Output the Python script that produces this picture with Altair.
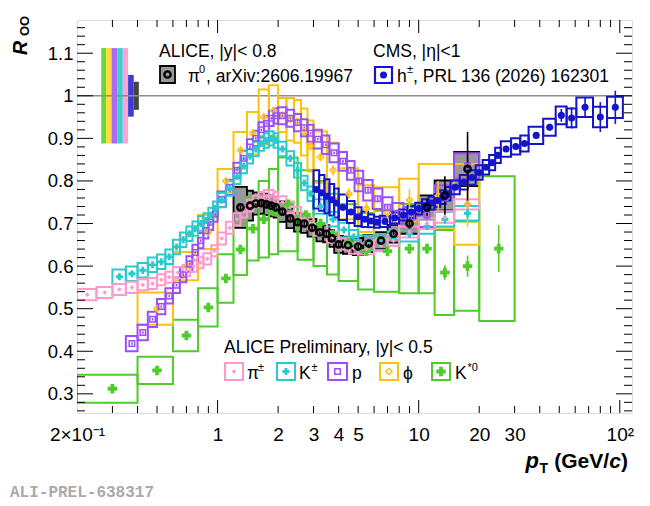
import altair as alt
import pandas as pd
import numpy as np

# ---------------- data ----------------
# pi+- (ALICE preliminary)
pi_edges = [0.2, 0.25, 0.3, 0.35, 0.4, 0.45, 0.5, 0.55, 0.6, 0.67, 0.73, 0.79, 0.85, 0.93, 1.0,
            1.1, 1.2, 1.3, 1.4, 1.5, 1.6, 1.7, 1.8, 1.9, 2.0, 2.2, 2.4, 2.6, 2.8, 3.0, 3.5, 4.0,
            4.5, 5.0, 6.0, 7.0, 8.0, 10, 12, 15, 20]
pi_y = [0.533, 0.538, 0.545, 0.550, 0.556, 0.559, 0.568, 0.574, 0.585, 0.590, 0.600, 0.608,
        0.617, 0.636, 0.665, 0.690, 0.710, 0.728, 0.742, 0.752, 0.760, 0.765, 0.765, 0.760,
        0.750, 0.738, 0.725, 0.712, 0.700, 0.685, 0.668, 0.652, 0.642, 0.640, 0.648, 0.660,
        0.680, 0.700, 0.715, 0.745]
pi_sys = [0.013] * 14 + [0.014] * 16 + [0.013] * 6 + [0.013, 0.013, 0.013, 0.012]
pi_stat = [0.002] * 30 + [0.003, 0.003, 0.003, 0.004, 0.004, 0.005, 0.006, 0.008, 0.010, 0.012]

# K+-
k_edges = [0.3, 0.35, 0.4, 0.45, 0.5, 0.55, 0.6, 0.65, 0.7, 0.75, 0.8, 0.85, 0.9, 0.95, 1.0,
           1.1, 1.2, 1.3, 1.4, 1.5, 1.6, 1.7, 1.8, 1.9, 2.0, 2.2, 2.4, 2.6, 2.8, 3.0, 3.5, 4.0,
           4.5, 5.0, 6.0, 7.0, 8.0, 10, 12, 15, 20]
k_y = [0.575, 0.582, 0.590, 0.603, 0.610, 0.622, 0.645, 0.662, 0.676, 0.688, 0.700, 0.707,
       0.720, 0.735, 0.755, 0.782, 0.810, 0.835, 0.858, 0.875, 0.888, 0.895, 0.900, 0.895,
       0.875, 0.853, 0.825, 0.795, 0.770, 0.740, 0.710, 0.685, 0.668, 0.655, 0.655, 0.665,
       0.675, 0.693, 0.710, 0.724]
k_sys = [0.017] * 40
k_stat = [0.003] * 30 + [0.003, 0.003, 0.004, 0.004, 0.005, 0.006, 0.007, 0.009, 0.011, 0.014]

# protons
p_edges = [0.35, 0.4, 0.45, 0.5, 0.55, 0.6, 0.65, 0.7, 0.75, 0.8, 0.85, 0.9, 0.95, 1.0,
           1.1, 1.2, 1.3, 1.4, 1.5, 1.6, 1.7, 1.8, 1.9, 2.0, 2.2, 2.4, 2.6, 2.8, 3.0, 3.3,
           3.6, 4.0, 4.4, 4.8, 5.3, 5.9, 6.6, 7.4, 8.4, 10, 12, 15, 20]
p_y = [0.418, 0.444, 0.475, 0.505, 0.530, 0.555, 0.580, 0.605, 0.632, 0.660, 0.683, 0.703,
       0.722, 0.757, 0.785, 0.825, 0.853, 0.880, 0.900, 0.920, 0.935, 0.947, 0.953, 0.953,
       0.947, 0.937, 0.925, 0.912, 0.898, 0.885, 0.866, 0.846, 0.825, 0.800, 0.778, 0.758,
       0.738, 0.724, 0.715, 0.720, 0.760, 0.835]
p_sys = [0.018] * 23 + [0.020] * 5 + [0.022] * 5 + [0.024] * 6 + [0.028, 0.030, 0.030]
p_stat = [0.003] * 30 + [0.003, 0.004, 0.004, 0.005, 0.005, 0.006, 0.007, 0.008, 0.010, 0.012, 0.015, 0.020]

# phi
phi_edges = [0.4, 0.6, 0.8, 1.0, 1.2, 1.4, 1.6, 1.8, 2.0, 2.2, 2.4, 2.6, 2.8, 3.0, 3.5, 4.0,
             5.0, 6.0, 8.0, 10, 15, 20]
phi_y = [0.500, 0.600, 0.680, 0.800, 0.872, 0.912, 0.950, 0.965, 0.955, 0.945, 0.940, 0.915,
         0.882, 0.856, 0.825, 0.770, 0.735, 0.725, 0.755, 0.765, 0.745]
phi_sys = [0.038, 0.033, 0.040, 0.028, 0.043, 0.050, 0.065, 0.060, 0.040, 0.050, 0.050, 0.055,
           0.060, 0.060, 0.065, 0.060, 0.055, 0.060, 0.050, 0.075, 0.095]
phi_stat = [0.004, 0.004, 0.004, 0.004, 0.005, 0.005, 0.006, 0.006, 0.007, 0.008, 0.008, 0.009,
            0.010, 0.010, 0.012, 0.012, 0.015, 0.018, 0.026, 0.035, 0.053]

# K*0
ks_edges = [0.2, 0.4, 0.6, 0.8, 1.0, 1.2, 1.4, 1.6, 1.8, 2.0, 2.5, 3.0, 3.5, 4.0, 5.0, 6.0,
            8.0, 10, 12, 15, 20, 30]
ks_y = [0.312, 0.355, 0.437, 0.503, 0.571, 0.639, 0.688, 0.710, 0.728, 0.745, 0.720, 0.700,
        0.675, 0.655, 0.635, 0.635, 0.641, 0.641, 0.585, 0.600, 0.641]
ks_sys = [0.033, 0.032, 0.037, 0.045, 0.057, 0.060, 0.075, 0.090, 0.100, 0.110, 0.105, 0.100,
          0.095, 0.090, 0.090, 0.095, 0.105, 0.105, 0.100, 0.105, 0.170]
ks_stat = [0.004, 0.004, 0.004, 0.004, 0.005, 0.005, 0.006, 0.006, 0.007, 0.007, 0.008, 0.008,
           0.009, 0.010, 0.010, 0.012, 0.012, 0.012, 0.017, 0.025, 0.055]

# pi0 (ALICE, arXiv:2606.19967)
pi0_edges = [1.2, 1.4, 1.5, 1.6, 1.7, 1.8, 1.9, 2.0, 2.2, 2.4, 2.6, 2.8, 3.1, 3.35, 3.6, 3.8,
             4.2, 4.7, 5.3, 6.0, 7.0, 8.0, 10, 12, 15, 20]
pi0_y = [0.738, 0.742, 0.747, 0.748, 0.745, 0.742, 0.738, 0.728, 0.712, 0.703, 0.700, 0.690,
         0.679, 0.676, 0.665, 0.651, 0.649, 0.646, 0.653, 0.660, 0.676, 0.700, 0.738, 0.766, 0.828]
pi0_sys = [0.048, 0.035, 0.026, 0.025, 0.025, 0.025, 0.024, 0.024, 0.023, 0.022, 0.022, 0.021,
           0.021, 0.020, 0.020, 0.020, 0.020, 0.020, 0.020, 0.020, 0.021, 0.024, 0.028, 0.035, 0.040]
pi0_stat = [0.004] * 10 + [0.005] * 5 + [0.006, 0.006, 0.007, 0.008, 0.009, 0.010, 0.012, 0.020,
                                         0.045, 0.087]

# h+- (CMS, PRL 136 (2026) 162301)
cms_edges = [3.0, 3.2, 3.4, 3.6, 3.8, 4.0, 4.4, 4.8, 5.2, 5.6, 6.0, 6.4, 7.2, 8.0, 8.8, 9.6,
             10.4, 11.2, 12.0, 12.8, 13.6, 14.4, 16.0, 17.6, 19.2, 20.8, 22.4, 24.0, 25.6,
             28.8, 32.0, 35.2, 41.6, 48.0, 54.4, 60.8, 73.6, 86.4, 103.6]
cms_y = [0.780, 0.772, 0.764, 0.756, 0.748, 0.738, 0.727, 0.716, 0.710, 0.706, 0.703, 0.705,
         0.713, 0.720, 0.727, 0.735, 0.742, 0.748, 0.754, 0.762, 0.770, 0.785, 0.797, 0.808,
         0.820, 0.832, 0.843, 0.860, 0.875, 0.881, 0.888, 0.907, 0.926, 0.954, 0.948, 0.973,
         0.950, 0.973]
cms_sys = [0.045, 0.042, 0.040, 0.037, 0.034, 0.030, 0.026, 0.022, 0.018, 0.015, 0.013, 0.013,
           0.013, 0.013, 0.014, 0.014, 0.015, 0.015, 0.015, 0.016, 0.016, 0.016, 0.017, 0.017,
           0.017, 0.017, 0.018, 0.018, 0.018, 0.019, 0.019, 0.020, 0.020, 0.021, 0.022, 0.023,
           0.024, 0.025]
cms_stat = [0.003] * 32 + [0.008, 0.015, 0.025, 0.022, 0.035, 0.039]

# global normalisation uncertainties drawn at R = 1
norm_lo = [0.264, 0.279, 0.297, 0.317, 0.338, 0.359, 0.383]
norm_hi = [0.279, 0.297, 0.317, 0.338, 0.359, 0.383, 0.406]
norm_unc = [0.112, 0.112, 0.112, 0.112, 0.112, 0.049, 0.033]
norm_col = ["#66d83f", "#ffd93d", "#a86af7", "#3fcfcf", "#ffa3d2", "#3d3dd6", "#444444"]

x_tick_vals = [0.2, 1, 2, 3, 4, 5, 10, 20, 30, 100]
x_tick_labels = ["2×10⁻¹", "1", "2", "3", "4", "5", "10", "20", "30", "10²"]
y_tick_vals = [0.3, 0.4, 0.5, 0.6, 0.7, 0.8, 0.9, 1.0, 1.1]
y_tick_labels = ["0.3", "0.4", "0.5", "0.6", "0.7", "0.8", "0.9", "1", "1.1"]

# ---------------- styling ----------------
FONT = "Liberation Sans"
PINK, CYAN, PURPLE, GOLD, GREEN, BLUE = "#ff99cc", "#2cc9cc", "#9b4ff5", "#fcc10e", "#4fcc2c", "#1414cc"
W, H = 555, 393
xs = alt.Scale(type="log", domain=[0.2, 115], nice=False)
ys = alt.Scale(domain=[0.255, 1.178], nice=False, zero=False)


def label_expr(vals, labels):
    return " : ".join(f"datum.value == {v} ? '{l}'" for v, l in zip(vals, labels)) + " : ''"


xaxis = alt.Axis(values=x_tick_vals, labelExpr=label_expr(x_tick_vals, x_tick_labels), title="",
                 ticks=False, domain=False, grid=False, labelFont=FONT, labelFontSize=19,
                 labelColor="black", labelPadding=12, labelOverlap=False, labelFlush=False,
                 labelBound=False)
yaxis = alt.Axis(values=y_tick_vals, labelExpr=label_expr(y_tick_vals, y_tick_labels), title="",
                 ticks=False, domain=False, grid=False, labelFont=FONT, labelFontSize=18.5,
                 labelColor="black", labelPadding=4, labelOverlap=False, labelFlush=False,
                 labelBound=False)


def table(edges, y, sys, stat):
    lo = np.array(edges[:-1], float)
    hi = np.array(edges[1:], float)
    y = np.array(y, float)
    sys = np.array(sys, float)
    stat = np.array(stat, float)
    return pd.DataFrame(dict(lo=lo, hi=hi, c=(lo + hi) / 2, y=y, ylo=y - sys, yhi=y + sys,
                             slo=y - stat, shi=y + stat))


def boxes(df, color, fill=None, sw=2.0):
    kw = dict(stroke=color, strokeWidth=sw, clip=True)
    if fill:
        kw["fill"] = fill
    else:
        kw["fillOpacity"] = 0
    return alt.Chart(df).mark_rect(**kw).encode(
        x=alt.X("lo:Q", scale=xs, axis=xaxis), x2="hi:Q",
        y=alt.Y("ylo:Q", scale=ys, axis=yaxis), y2="yhi:Q")


def bars(df, color):
    return alt.Chart(df).mark_rule(color=color, strokeWidth=1.6, clip=True).encode(
        x=alt.X("c:Q", scale=xs, axis=xaxis),
        y=alt.Y("slo:Q", scale=ys, axis=yaxis), y2="shi:Q")


def points(df, **kw):
    return alt.Chart(df).mark_point(clip=True, opacity=1, **kw).encode(
        x=alt.X("c:Q", scale=xs, axis=xaxis), y=alt.Y("y:Q", scale=ys, axis=yaxis))


def txt(s, x, y, size=17.5, weight="normal", style="normal", align="left", color="black",
        font=FONT, angle=0, baseline="alphabetic"):
    kw = dict(align=align, baseline=baseline, fontSize=size, fontWeight=weight,
              fontStyle=style, font=font, color=color)
    if angle:
        kw["angle"] = angle
    return alt.Chart(pd.DataFrame({"t": [s]})).mark_text(**kw).encode(
        x=alt.value(x), y=alt.value(y), text="t:N")


one = pd.DataFrame({"a": [0]})


def lbox(x0, x1, y0, y1, stroke, fill=None, sw=2.0):
    kw = dict(stroke=stroke, strokeWidth=sw)
    if fill:
        kw["fill"] = fill
    else:
        kw["fillOpacity"] = 0
    return alt.Chart(one).mark_rect(**kw).encode(
        x=alt.value(x0), x2=alt.value(x1), y=alt.value(y0), y2=alt.value(y1))


def lpoint(x, y, **kw):
    return alt.Chart(one).mark_point(opacity=1, **kw).encode(x=alt.value(x), y=alt.value(y))


T_pi, T_k, T_p, T_phi, T_ks, T_pi0, T_cms = (table(pi_edges, pi_y, pi_sys, pi_stat),
                                            table(k_edges, k_y, k_sys, k_stat),
                                            table(p_edges, p_y, p_sys, p_stat),
                                            table(phi_edges, phi_y, phi_sys, phi_stat),
                                            table(ks_edges, ks_y, ks_sys, ks_stat),
                                            table(pi0_edges, pi0_y, pi0_sys, pi0_stat),
                                            table(cms_edges, cms_y, cms_sys, cms_stat))

norm_df = pd.DataFrame(dict(lo=norm_lo, hi=norm_hi, ylo=[1 - u for u in norm_unc],
                            yhi=[1 + u for u in norm_unc], col=norm_col))
bands = alt.Chart(norm_df).mark_rect().encode(
    x=alt.X("lo:Q", scale=xs, axis=xaxis), x2="hi:Q",
    y=alt.Y("ylo:Q", scale=ys, axis=yaxis), y2="yhi:Q",
    color=alt.Color("col:N", scale=None))

unity = alt.Chart(pd.DataFrame({"v": [1.0]})).mark_rule(color="#8c8c8c", strokeWidth=1.6).encode(
    y=alt.Y("v:Q", scale=ys, axis=yaxis))

# ticks (ROOT style, pointing inward)
x_major = [1, 10, 100]
x_minor = [m * d for d in (0.1, 1, 10) for m in range(2, 10) if m * d > 0.2]
y_minor = [round(0.26 + 0.02 * i, 2) for i in range(47)]
y_minor = [v for v in y_minor if v <= 1.17 and round(v * 10, 6) != round(v * 10)]


def xticks(vals, ln):
    d = pd.DataFrame({"v": vals})
    b = alt.Chart(d).mark_rule(color="black", strokeWidth=1).encode(
        x=alt.X("v:Q", scale=xs, axis=xaxis), y=alt.value(H), y2=alt.value(H - ln))
    t = alt.Chart(d).mark_rule(color="black", strokeWidth=1).encode(
        x=alt.X("v:Q", scale=xs, axis=xaxis), y=alt.value(0), y2=alt.value(ln))
    return [b, t]


def yticks(vals, ln):
    d = pd.DataFrame({"v": vals})
    l = alt.Chart(d).mark_rule(color="black", strokeWidth=1).encode(
        y=alt.Y("v:Q", scale=ys, axis=yaxis), x=alt.value(0), x2=alt.value(ln))
    r = alt.Chart(d).mark_rule(color="black", strokeWidth=1).encode(
        y=alt.Y("v:Q", scale=ys, axis=yaxis), x=alt.value(W), x2=alt.value(W - ln))
    return [l, r]


layers = [bands, unity,
          boxes(T_pi0, "black", fill="#999999", sw=1.8),
          boxes(T_ks, GREEN), boxes(T_phi, GOLD), boxes(T_p, PURPLE),
          boxes(T_k, CYAN), boxes(T_pi, PINK), boxes(T_cms, BLUE),
          bars(T_ks, GREEN), bars(T_phi, GOLD), bars(T_p, PURPLE), bars(T_k, CYAN),
          bars(T_pi, PINK), bars(T_pi0, "black"), bars(T_cms, BLUE),
          points(T_ks, shape="cross", filled=True, size=90, color=GREEN),
          points(T_phi, shape="diamond", filled=False, size=40, strokeWidth=1.5, color=GOLD),
          points(T_p, shape="square", filled=False, size=30, strokeWidth=1.5, color=PURPLE),
          points(T_k, shape="cross", filled=True, size=50, color=CYAN),
          points(T_pi, shape="diamond", filled=True, size=22, color=PINK),
          points(T_cms, shape="circle", filled=True, size=50, color=BLUE),
          points(T_pi0, shape="circle", filled=False, size=40, strokeWidth=2.4, color="black"),
          ]
layers += xticks(x_major, 13) + xticks(x_minor, 7)
layers += yticks(y_tick_vals, 16) + yticks(y_minor, 8)

# legends
layers += [
    txt("ALICE, |y|< 0.8", 82, 37),
    lbox(83, 98, 46, 63, "black", fill="#999999", sw=1.8),
    lpoint(90.5, 54.5, shape="circle", filled=False, size=40, strokeWidth=2.4, color="black"),
    txt("π", 111, 62), txt("0", 122, 53, size=11), txt(", arXiv:2606.19967", 129, 62),
    txt("CMS, |η|<1", 296, 37),
    lbox(298, 315, 47, 63, BLUE, sw=2.2),
    lpoint(306.5, 55, shape="circle", filled=True, size=50, color=BLUE),
    txt("h", 320, 62), txt("±", 330, 53, size=11), txt(", PRL 136 (2026) 162301", 336, 62),
    txt("ALICE Preliminary, |y|< 0.5", 147, 333),
    lbox(148, 166, 343, 360, PINK), lpoint(157, 351.5, shape="diamond", filled=True, size=22, color=PINK),
    txt("π", 170, 359), txt("±", 181, 351, size=11),
    lbox(200, 218, 343, 360, CYAN), lpoint(209, 351.5, shape="cross", filled=True, size=50, color=CYAN),
    txt("K", 222, 359), txt("±", 234.5, 351, size=11),
    lbox(251, 270, 343, 360, PURPLE),
    lpoint(260.5, 351.5, shape="square", filled=False, size=30, strokeWidth=1.5, color=PURPLE),
    txt("p", 275, 359),
    lbox(303, 321, 343, 360, GOLD),
    lpoint(312, 351.5, shape="diamond", filled=False, size=40, strokeWidth=1.5, color=GOLD),
    txt("ϕ", 326, 359),
    lbox(355, 373, 343, 360, GREEN), lpoint(364, 351.5, shape="cross", filled=True, size=90, color=GREEN),
    txt("K", 378, 359), txt("*0", 390.5, 351, size=11),
    # axis titles
    txt("R", -50, 35, size=19.5, weight="bold", style="italic", angle=270),
    txt("OO", -48.5, 16, size=13, weight="bold", angle=270),
    txt(")", 551, 448, size=21, weight="bold", align="right"),
    txt("c", 544, 448, size=21, weight="bold", style="italic", align="right"),
    txt("(GeV/", 532, 448, size=21, weight="bold", align="right"),
    txt("T", 471, 453, size=14, weight="bold", align="right"),
    txt("p", 462, 448, size=22, weight="bold", style="italic", align="right"),
    txt("ALI-PREL-638317", -67, 477, size=16, weight="bold", font="Liberation Mono", color="#aaaaaa"),
]

chart = alt.layer(*layers).properties(
    width=W, height=H,
    padding={"left": 69, "top": 12, "right": 10, "bottom": 90},
    autosize=alt.AutoSizeParams(type="none"),
).configure_view(stroke="black", strokeWidth=1.2).configure(background="white")

chart.save("out.html", embed_options={"renderer": "svg", "actions": False})
